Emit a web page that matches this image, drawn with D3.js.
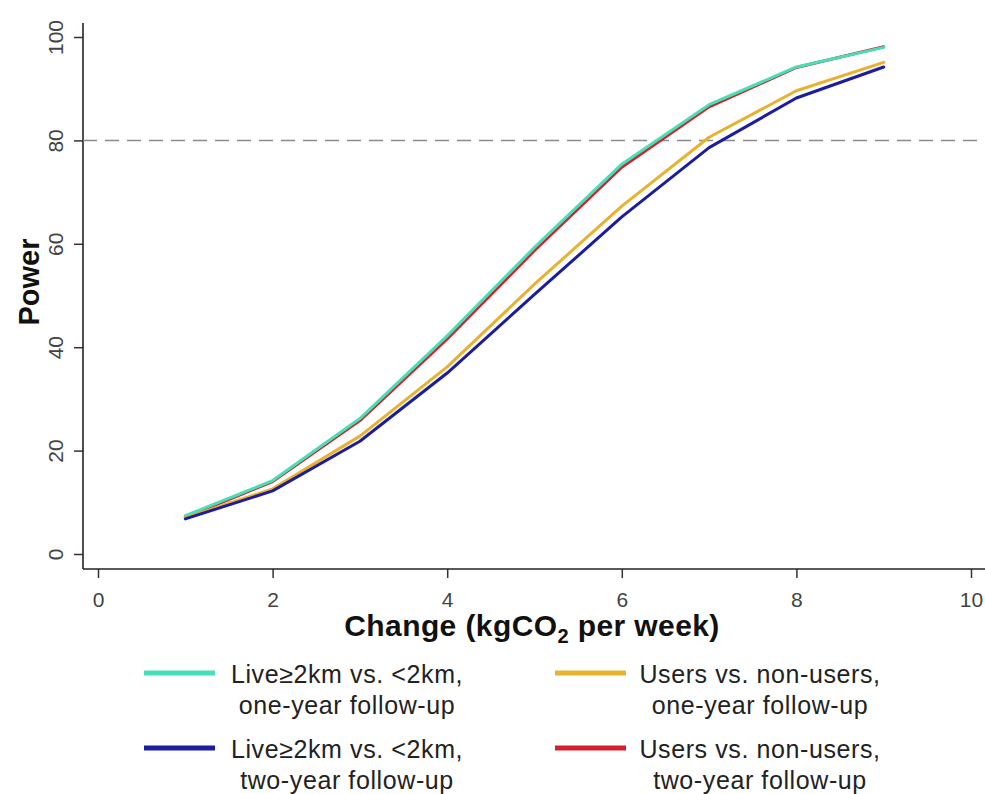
<!DOCTYPE html>
<html>
<head>
<meta charset="utf-8">
<script src="https://cdn.jsdelivr.net/npm/d3@7"></script>
<style>
  html, body { margin: 0; padding: 0; background: #fff; }
  svg { display: block; font-family: "Liberation Sans", Arial, sans-serif; }
</style>
</head>
<body>
<svg id="chart" width="985" height="794"></svg>
<script>
// Detectable change in weekly CO2 (kg) and the resulting statistical power (%)
const changes = [1, 2, 3, 4, 5, 6, 7, 8, 9];
const liveOneYear  = [7.4, 14.2, 26.2, 42.2, 59.3, 75.4, 86.9, 94.2, 98.0];
const liveTwoYear  = [6.8, 12.2, 21.8, 35.0, 50.2, 65.2, 78.6, 88.2, 94.2];
const usersOneYear = [7.0, 12.6, 22.8, 36.2, 52.2, 67.3, 80.6, 89.6, 95.1];
const usersTwoYear = [7.1, 14.0, 25.8, 41.6, 58.7, 74.8, 86.5, 94.1, 98.1];
const xTicks = [0, 2, 4, 6, 8, 10];
const yTicks = [0, 20, 40, 60, 80, 100];
const referencePower = 80;

const seriesNames = [
  ["Live\u22652km vs. <2km,", "one-year follow-up"],
  ["Live\u22652km vs. <2km,", "two-year follow-up"],
  ["Users vs. non-users,", "one-year follow-up"],
  ["Users vs. non-users,", "two-year follow-up"]
];
const seriesValues = [liveOneYear, liveTwoYear, usersOneYear, usersTwoYear];
const seriesColors = ["#45e0b8", "#1c1ca0", "#e8b22e", "#d4202c"];

const svg = d3.select("#chart");

const x = d3.scaleLinear().domain([0, 10]).range([98, 971]);
const y = d3.scaleLinear().domain([0, 100]).range([554, 37]);
const axisX = 83, axisY = 569;

// Left axis
const yAxis = svg.append("g").attr("transform", `translate(${axisX},0)`)
  .call(d3.axisLeft(y).tickValues(yTicks).tickSize(9).tickPadding(10));
yAxis.select(".domain").remove();
yAxis.selectAll(".tick line").attr("stroke", "#333").attr("stroke-width", 1.5);
yAxis.selectAll(".tick text")
  .attr("font-size", 21).attr("fill", "#444")
  .attr("transform", "rotate(-90)")
  .attr("x", 0).attr("y", -20)
  .attr("dy", "0")
  .attr("text-anchor", "middle");
svg.append("line").attr("x1", axisX).attr("x2", axisX)
  .attr("y1", 23).attr("y2", axisY).attr("stroke", "#222").attr("stroke-width", 1.6);

// Bottom axis
const xAxis = svg.append("g").attr("transform", `translate(0,${axisY})`)
  .call(d3.axisBottom(x).tickValues(xTicks).tickSize(9).tickPadding(14));
xAxis.select(".domain").remove();
xAxis.selectAll(".tick line").attr("stroke", "#333").attr("stroke-width", 1.5);
xAxis.selectAll(".tick text").attr("font-size", 21).attr("fill", "#444");
svg.append("line").attr("x1", axisX).attr("x2", 985)
  .attr("y1", axisY).attr("y2", axisY).attr("stroke", "#222").attr("stroke-width", 1.6);

// 80% power reference line
svg.append("line")
  .attr("x1", axisX).attr("x2", 985)
  .attr("y1", y(referencePower)).attr("y2", y(referencePower))
  .attr("stroke", "#8a8a8a").attr("stroke-width", 1.5)
  .attr("stroke-dasharray", "14,8");

// Power curves (red beneath cyan, blue on top)
const line = d3.line().x((d, i) => x(changes[i])).y(d => y(d));
const drawOrder = [3, 0, 2, 1];
drawOrder.forEach(k => {
  svg.append("path")
    .datum(seriesValues[k])
    .attr("fill", "none")
    .attr("stroke", seriesColors[k])
    .attr("stroke-width", 3)
    .attr("stroke-linejoin", "round")
    .attr("stroke-linecap", "round")
    .attr("d", line);
});

// Axis titles
const xTitle = svg.append("text")
  .attr("x", 532).attr("y", 636)
  .attr("text-anchor", "middle")
  .attr("font-size", 30).attr("font-weight", "bold").attr("fill", "#111")
  .attr("letter-spacing", 0.4);
xTitle.append("tspan").text("Change (kgCO");
xTitle.append("tspan").attr("font-size", 20).attr("dy", 7).text("2");
xTitle.append("tspan").attr("dy", -7).text(" per week)");

svg.append("text")
  .attr("transform", "translate(39,282) rotate(-90)")
  .attr("text-anchor", "middle")
  .attr("font-size", 29).attr("font-weight", "bold").attr("fill", "#111")
  .text("Power");

// Legend: two columns, two rows
const legendPos = [
  {sx: 144, cx: 347, y: 673},
  {sx: 144, cx: 347, y: 748},
  {sx: 555, cx: 760, y: 673},
  {sx: 555, cx: 760, y: 748}
];
seriesNames.forEach((lines, k) => {
  const p = legendPos[k];
  const g = svg.append("g");
  g.append("line")
    .attr("x1", p.sx).attr("x2", p.sx + 71)
    .attr("y1", p.y).attr("y2", p.y)
    .attr("stroke", seriesColors[k]).attr("stroke-width", 5);
  const t = g.append("text")
    .attr("font-size", 25).attr("fill", "#222")
    .attr("letter-spacing", 0.6)
    .attr("text-anchor", "middle");
  t.append("tspan").attr("x", p.cx).attr("y", p.y + 10).text(lines[0]);
  t.append("tspan").attr("x", p.cx).attr("y", p.y + 41).text(lines[1]);
});
</script>
</body>
</html>
